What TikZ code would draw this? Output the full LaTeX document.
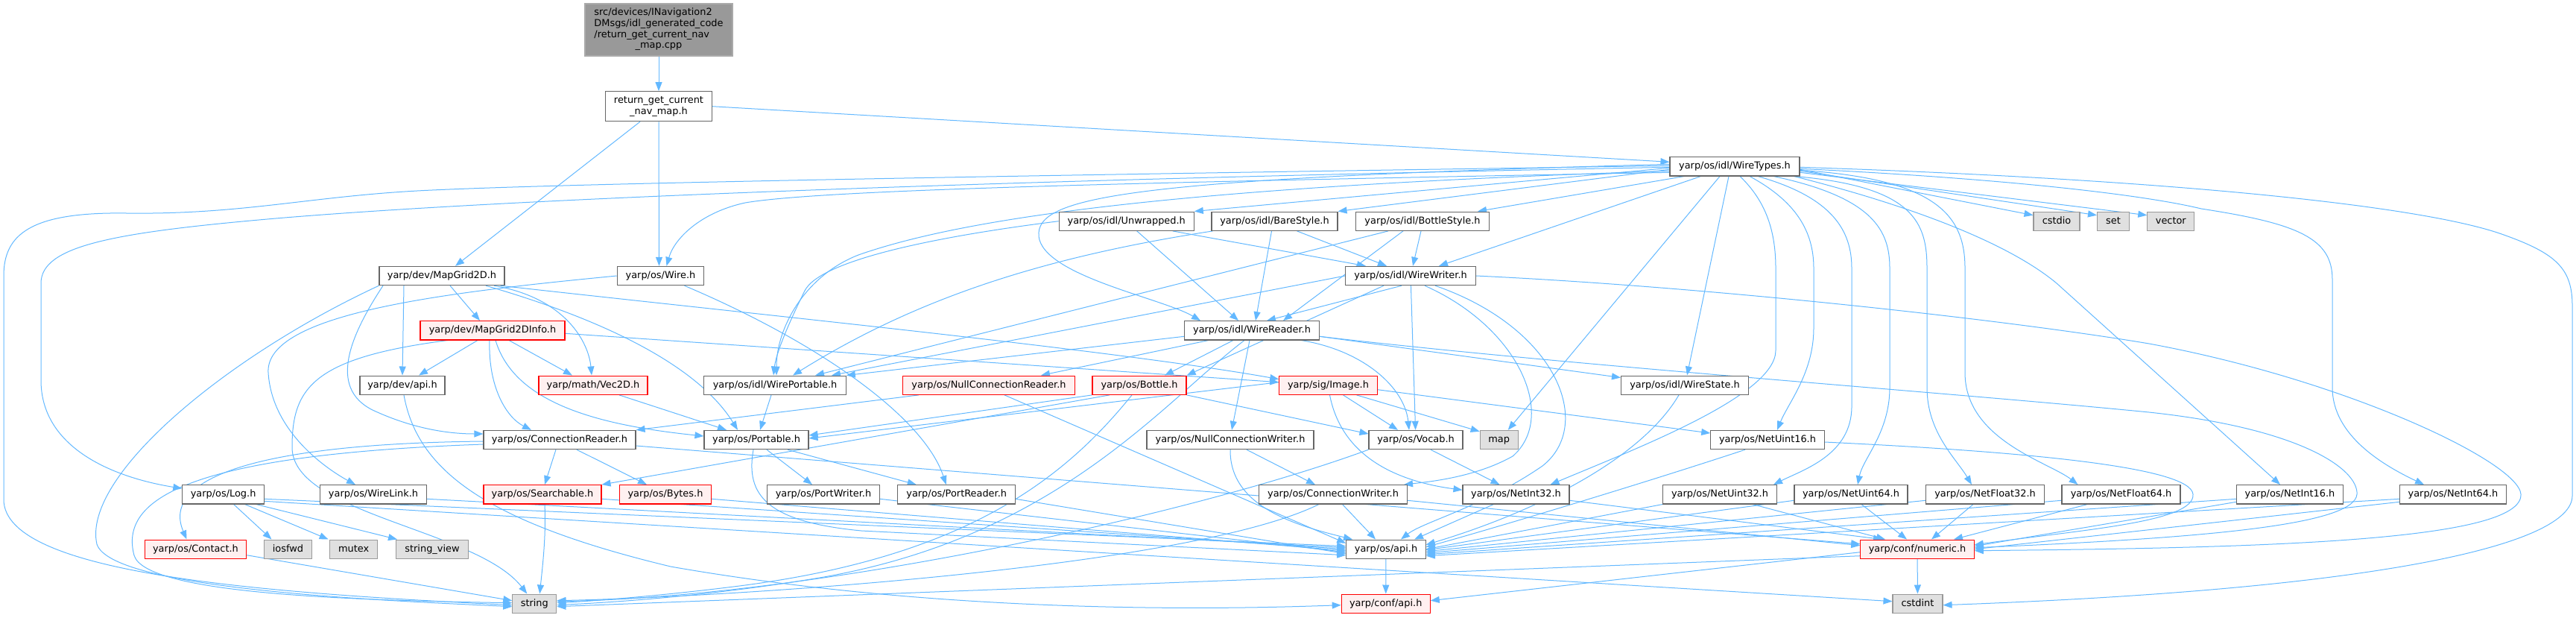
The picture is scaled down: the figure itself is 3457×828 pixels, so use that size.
\documentclass[tikz,border=0pt]{standalone}
\usepackage{fontspec}
\setmainfont{DejaVu Sans}
\usetikzlibrary{arrows.meta}
\pgfdeclarelayer{edgelayer}
\pgfsetlayers{edgelayer,main}
\definecolor{eb}{HTML}{63B8FF}
\definecolor{nb}{HTML}{666666}
\definecolor{rb}{HTML}{FF0000}
\definecolor{rf}{HTML}{FFF0F0}
\definecolor{gb}{HTML}{999999}
\definecolor{gf}{HTML}{E0E0E0}
\definecolor{rootf}{HTML}{999999}
\definecolor{rootb}{HTML}{AAAAAA}
\tikzset{
  base/.style={rectangle, line width=1.1pt, inner xsep=0pt, inner ysep=0pt, font=\fontsize{12.9}{14.7}\selectfont},
  nd/.style={base, draw=nb, fill=white, minimum height=25.3pt, text height=9.6pt, text depth=3pt},
  rd/.style={nd, draw=rb, fill=rf},
  gy/.style={nd, draw=gb, fill=gf},
  e/.style={draw=eb, line width=1pt, -{Triangle[length=12pt,width=9pt]}},
}
\begin{document}
\begin{tikzpicture}[x=1pt,y=-1pt]
\useasboundingbox (0,0) rectangle (3457,828);
% ---------------- nodes
\node[base, draw=rootb, fill=rootf, minimum width=198pt, minimum height=70pt] (root) at (884,40)
  {\begin{tabular}{@{}l@{}}src/devices/INavigation2\\DMsgs/idl\_generated\_code\\/return\_get\_current\_nav\\\multicolumn{1}{@{}c@{}}{\_map.cpp}\end{tabular}};
\node[base, draw=nb, fill=white, minimum width=142.5pt, minimum height=40pt, align=center] (rgc) at (884,142.7) {return\_get\_current\\\_nav\_map.h};
\node[nd, minimum width=174pt] (wt) at (2328,223.3) {yarp/os/idl/WireTypes.h};
\node[nd, minimum width=181pt] (unw) at (1511.7,296.7) {yarp/os/idl/Unwrapped.h};
\node[nd, minimum width=169pt] (bare) at (1710.5,296.7) {yarp/os/idl/BareStyle.h};
\node[nd, minimum width=179pt] (bots) at (1909,296.7) {yarp/os/idl/BottleStyle.h};
\node[gy, minimum width=62pt] (cstdio) at (2760,296.7) {cstdio};
\node[gy, minimum width=43pt] (set) at (2836,296.7) {set};
\node[gy, minimum width=63pt] (vector) at (2913.3,296.7) {vector};
\node[nd, minimum width=168pt] (mg) at (593,370) {yarp/dev/MapGrid2D.h};
\node[nd, minimum width=116.5pt] (wire) at (886.5,370) {yarp/os/Wire.h};
\node[nd, minimum width=175pt] (ww) at (1893,370) {yarp/os/idl/WireWriter.h};
\node[rd, minimum width=194pt] (mgi) at (661,443.3) {yarp/dev/MapGrid2DInfo.h};
\node[nd, minimum width=181pt] (wr) at (1680,443.3) {yarp/os/idl/WireReader.h};
\node[nd, minimum width=114pt] (devapi) at (540,516.7) {yarp/dev/api.h};
\node[rd, minimum width=146pt] (vec) at (796,516.7) {yarp/math/Vec2D.h};
\node[nd, minimum width=190.5pt] (wp) at (1040,516.7) {yarp/os/idl/WirePortable.h};
\node[rd, minimum width=231pt] (ncr) at (1327,516.7) {yarp/os/NullConnectionReader.h};
\node[rd, minimum width=126pt] (bot) at (1529,516.7) {yarp/os/Bottle.h};
\node[rd, minimum width=131.5pt] (img) at (1782.5,516.7) {yarp/sig/Image.h};
\node[nd, minimum width=171pt] (ws) at (2261,516.7) {yarp/os/idl/WireState.h};
\node[nd, minimum width=204pt] (cr) at (751,590) {yarp/os/ConnectionReader.h};
\node[nd, minimum width=140pt] (port) at (1015,590) {yarp/os/Portable.h};
\node[nd, minimum width=224pt] (ncw) at (1651,590) {yarp/os/NullConnectionWriter.h};
\node[nd, minimum width=126pt] (voc) at (1900,590) {yarp/os/Vocab.h};
\node[gy, minimum width=51pt] (map) at (2011.7,590) {map};
\node[nd, minimum width=152.5pt] (nu16) at (2372,590) {yarp/os/NetUint16.h};
\node[nd, minimum width=109.5pt] (log) at (299.6,663.3) {yarp/os/Log.h};
\node[nd, minimum width=143pt] (wl) at (501,663.3) {yarp/os/WireLink.h};
\node[rd, minimum width=158pt] (srch) at (728,663.3) {yarp/os/Searchable.h};
\node[rd, minimum width=123pt] (bytes) at (893,663.3) {yarp/os/Bytes.h};
\node[nd, minimum width=151pt] (pw) at (1105,663.3) {yarp/os/PortWriter.h};
\node[nd, minimum width=157.6pt] (pr) at (1283.7,663.3) {yarp/os/PortReader.h};
\node[nd, minimum width=199pt] (cw) at (1789,663.3) {yarp/os/ConnectionWriter.h};
\node[nd, minimum width=143pt] (ni32) at (2034.5,663.3) {yarp/os/NetInt32.h};
\node[nd, minimum width=152.5pt] (nu32) at (2308,663.3) {yarp/os/NetUint32.h};
\node[nd, minimum width=152pt] (nu64) at (2484,663.3) {yarp/os/NetUint64.h};
\node[nd, minimum width=159pt] (nf32) at (2664,663.3) {yarp/os/NetFloat32.h};
\node[nd, minimum width=159pt] (nf64) at (2846.5,663.3) {yarp/os/NetFloat64.h};
\node[nd, minimum width=143pt] (ni16) at (3073,663.3) {yarp/os/NetInt16.h};
\node[nd, minimum width=143pt] (ni64) at (3292,663.3) {yarp/os/NetInt64.h};
\node[rd, minimum width=136.5pt] (contact) at (262.5,736.7) {yarp/os/Contact.h};
\node[gy, minimum width=64pt] (iosfwd) at (386.5,736.7) {iosfwd};
\node[gy, minimum width=64pt] (mutex) at (474.6,736.7) {mutex};
\node[gy, minimum width=97.7pt] (sv) at (580,736.7) {string\_view};
\node[nd, minimum width=106.5pt] (osapi) at (1860,736.7) {yarp/os/api.h};
\node[rd, minimum width=152.4pt] (num) at (2573,736.7) {yarp/conf/numeric.h};
\node[gy, minimum width=59pt] (str) at (717.3,809.7) {string};
\node[rd, minimum width=119pt] (confapi) at (1859.7,809.7) {yarp/conf/api.h};
\node[gy, minimum width=67pt] (cstdint) at (2573.5,809.7) {cstdint};
% ---------------- edges
\begin{pgfonlayer}{edgelayer}
% root and return_get_current_nav_map.h
\draw[e] (root) -- (rgc);
\draw[e] ([xshift=-25pt]rgc.south) -- ([xshift=18pt]mg.north);
\draw[e] (rgc.south) -- ([xshift=-2pt]wire.north);
\draw[e] (rgc.east) -- ([yshift=6pt]wt.west);
% WireTypes
\draw[e] ([yshift=-4pt]wt.east) -- ([yshift=8pt]cstdio.west);
\draw[e] ([yshift=-6pt]wt.east) -- ([yshift=8pt]set.west);
\draw[e] ([yshift=-8pt]wt.east) -- ([yshift=8pt]vector.west);
\draw[e] ([yshift=-2pt]wt.west) -- (unw.north east);
\draw[e] ([yshift=-4pt]wt.west) -- (bare.north east);
\draw[e] ([xshift=20pt]wt.south west) -- ([xshift=-16pt]bots.north east);
\draw[e] ([xshift=42pt]wt.south west) -- ([xshift=38pt]ww.north);
\draw[e] ([yshift=3pt]wt.west) .. controls (1500,240) and (1390,265) .. (1394,317) .. controls (1400,370) and (1560,400) .. ([xshift=-69pt]wr.north);
\draw[e] ([yshift=-6pt]wt.west) .. controls (1600,250) and (1300,290) .. (1152,342) .. controls (1080,370) and (1042,440) .. ([xshift=2pt]wp.north);
\draw[e] ([yshift=-8pt]wt.west) .. controls (1500,245) and (1100,255) .. (1000,272) .. controls (940,285) and (905,320) .. ([xshift=8pt]wire.north);
\draw[e] ([yshift=-1pt]wt.west) .. controls (1400,240) and (700,265) .. (370,293) .. controls (150,312) and (55,330) .. (55,380) -- (55,510) .. controls (55,600) and (150,640) .. ([yshift=8pt]log.west);
\draw[e] ([yshift=1pt]wt.west) .. controls (1400,235) and (800,245) .. (580,255) .. controls (420,262) and (330,288) .. (170,286) .. controls (40,284) and (5,315) .. (5,370) -- (5,670) .. controls (5,770) and (350,795) .. ([yshift=-2pt]str.west);
\draw[e] ([xshift=-20pt]wt.south) -- ([xshift=12pt]map.north);
\draw[e] ([xshift=-8pt]wt.south) -- ([xshift=3pt]ws.north);
\draw[e] ([xshift=7pt]wt.south) .. controls (2370,270) and (2383,310) .. (2383,360) -- (2383,470) .. controls (2383,530) and (2200,600) .. ([xshift=46pt]ni32.north);
\draw[e] ([xshift=20pt]wt.south) .. controls (2410,270) and (2434,310) .. (2434,360) -- (2434,440) .. controls (2434,500) and (2400,540) .. ([xshift=13pt]nu16.north);
\draw[e] ([xshift=31pt]wt.south) .. controls (2460,265) and (2485,310) .. (2485,360) -- (2485,545) .. controls (2485,610) and (2420,630) .. ([xshift=72pt]nu32.north);
\draw[e] ([xshift=52pt]wt.south) .. controls (2515,265) and (2536,310) .. (2536,360) -- (2536,520) .. controls (2536,580) and (2500,615) .. ([xshift=9pt]nu64.north);
\draw[e] ([xshift=80pt]wt.south) .. controls (2570,250) and (2586,300) .. (2586,360) -- (2586,520) .. controls (2586,580) and (2625,615) .. ([xshift=-18pt]nf32.north);
\draw[e] ([yshift=-5pt]wt.east) .. controls (2600,240) and (2637,290) .. (2637,360) -- (2637,500) .. controls (2637,590) and (2750,620) .. ([xshift=-58pt]nf64.north);
\draw[e] ([xshift=-8pt]wt.south east) .. controls (2580,280) and (2700,330) .. (2760,380) -- ([xshift=-13pt]ni16.north);
\draw[e] ([yshift=-3pt]wt.east) .. controls (2700,240) and (2880,262) .. (2954,280) .. controls (3085,300) and (3130,320) .. (3130,375) -- (3130,520) .. controls (3130,585) and (3200,625) .. ([xshift=-39pt]ni64.north);
\draw[e] ([yshift=-1pt]wt.east) .. controls (2900,240) and (3250,275) .. (3360,315) .. controls (3430,340) and (3452,360) .. (3452,410) -- (3452,665) .. controls (3452,730) and (3200,790) .. ([yshift=-2pt]cstdint.east);
% Unwrapped, BareStyle, BottleStyle
\draw[e] ([xshift=62pt]unw.south) -- ([xshift=-60pt]ww.north);
\draw[e] ([xshift=14pt]unw.south) -- ([xshift=-18pt]wr.north);
\draw[e] (unw.west) .. controls (1250,318) and (1100,350) .. (1080,390) .. controls (1065,420) and (1042,470) .. ([xshift=-2pt]wp.north);
\draw[e] ([xshift=30pt]bare.south) -- ([xshift=-32pt]ww.north);
\draw[e] ([xshift=-4pt]bare.south) -- ([xshift=5pt]wr.north);
\draw[e] ([xshift=2pt]bare.south west) .. controls (1400,345) and (1230,400) .. ([xshift=24pt]wp.north);
\draw[e] ([xshift=-2pt]bots.south) -- ([xshift=3pt]ww.north);
\draw[e] ([xshift=-26pt]bots.south) -- ([xshift=42pt]wr.north);
\draw[e] ([xshift=-46pt]bots.south) -- ([xshift=54pt]wp.north);
% WireWriter
\draw[e] ([xshift=-12pt]ww.south) -- ([xshift=20pt]wr.north);
\draw[e] (ww.west) -- ([xshift=76pt]wp.north);
\draw[e] ([xshift=-36pt]ww.south) -- (bot.north east);
\draw[e] (ww) -- (voc);
\draw[e] ([xshift=19pt]ww.south) .. controls (2040,440) and (2090,560) .. (2030,612) .. controls (1980,640) and (1920,646) .. ([xshift=95pt]cw.north);
\draw[e] ([xshift=33pt]ww.south) .. controls (2090,440) and (2140,570) .. (2070,625) .. controls (1990,680) and (1910,700) .. ([xshift=20pt]osapi.north);
\draw[e] (ww.east) .. controls (2300,385) and (2700,430) .. (2884,461) .. controls (3150,510) and (3380,620) .. (3383,663) .. controls (3386,725) and (3050,735) .. ([yshift=-2pt]num.east);
% WireReader
\draw[e] ([xshift=-58pt]wr.south) -- ([xshift=70pt]ncr.north);
\draw[e] ([xshift=-25pt]wr.south) -- ([xshift=34pt]bot.north);
\draw[e] ([xshift=-3pt]wr.south) -- ([xshift=2pt]ncw.north);
\draw[e] ([xshift=-10pt]wr.south) .. controls (1560,540) and (1420,720) .. (1100,775) .. controls (950,800) and (820,808) .. ([yshift=-2pt]str.east);
\draw[e] ([yshift=-8pt]wr.west) -- (wp.north east);
\draw[e] ([yshift=-8pt]wr.east) -- ([yshift=-3pt]ws.north west);
\draw[e] ([xshift=66pt]wr.south) .. controls (1830,470) and (1885,520) .. ([xshift=-9pt]voc.north);
\draw[e] ([yshift=-8pt]wr.east) .. controls (2100,490) and (2600,525) .. (2884,553) .. controls (3090,575) and (3165,630) .. (3163,663) .. controls (3160,705) and (2950,722) .. ([yshift=2pt]num.east);
% NullConnectionReader, Bottle, Image
\draw[e] ([xshift=-94pt]ncr.south) -- (cr.north east);
\draw[e] ([xshift=21pt]ncr.south) -- ([yshift=8pt]osapi.west);
\draw[e] (bot.south west) -- ([yshift=6pt]port.east);
\draw[e] ([xshift=-40pt]bot.south) -- (srch.north east);
\draw[e] ([xshift=-10pt]bot.south) .. controls (1430,640) and (1300,745) .. (1000,785) .. controls (900,798) and (800,806) .. ([yshift=1pt]str.east);
\draw[e] (bot.south east) -- ([yshift=8pt]voc.west);
\draw[e] ([xshift=20pt]img.south) -- ([xshift=-24pt]voc.north);
\draw[e] ([xshift=38pt]img.south) -- ([yshift=-2pt]map.north west);
\draw[e] ([xshift=2pt]img.south) .. controls (1800,610) and (1870,645) .. ([yshift=6pt]ni32.west);
\draw[e] ([yshift=-6pt]img.east) -- ([yshift=9pt]nu16.west);
\draw[e] ([yshift=4pt]img.west) -- ([yshift=2pt]port.east);
% NullConnectionWriter, Vocab, ConnectionWriter
\draw[e] ([xshift=22pt]ncw.south) -- ([xshift=-24pt]cw.north);
\draw[e] (ncw.south) .. controls (1650,680) and (1740,705) .. ([xshift=-45pt]osapi.north);
\draw[e] ([xshift=20pt]voc.south) -- ([xshift=-22pt]ni32.north);
\draw[e] (voc.south west) .. controls (1600,690) and (1100,800) .. ([yshift=3pt]str.east);
\draw[e] (cw) -- ([xshift=-14pt]osapi.north);
\draw[e] ([yshift=-8pt]cw.east) -- ([yshift=5pt]num.west);
\draw[e] ([xshift=-19pt]cw.south) .. controls (1600,760) and (1000,800) .. ([yshift=4pt]str.east);
% Net types
\draw[e] ([xshift=-30pt]ni32.south) -- ([xshift=38pt]osapi.north);
\draw[e] ([yshift=-8pt]ni32.east) -- ([xshift=-47pt]num.north);
\draw[e] ([xshift=-8pt]ws.south) .. controls (2200,620) and (2050,690) .. ([yshift=6pt]osapi.east);
\draw[e] ([xshift=-30pt]nu16.south) .. controls (2200,650) and (2000,710) .. ([yshift=3pt]osapi.east);
\draw[e] ([yshift=-3pt]nu16.east) .. controls (2700,605) and (2940,625) .. (2943,663) .. controls (2946,700) and (2800,710) .. ([yshift=6pt]num.east);
\draw[e] (nu32.south west) -- (osapi.east);
\draw[e] ([xshift=44pt]nu32.south) -- ([xshift=-43pt]num.north);
\draw[e] ([yshift=-8pt]nu64.west) -- ([yshift=-1pt]osapi.east);
\draw[e] ([xshift=14pt]nu64.south) -- ([xshift=-14pt]num.north);
\draw[e] ([yshift=-8pt]nf32.west) -- ([yshift=-3pt]osapi.east);
\draw[e] ([xshift=-16pt]nf32.south) -- ([xshift=19pt]num.north);
\draw[e] ([yshift=-8pt]nf64.west) -- ([yshift=-5pt]osapi.east);
\draw[e] ([xshift=-45pt]nf64.south) -- ([xshift=49pt]num.north);
\draw[e] ([yshift=-6pt]ni16.west) -- ([yshift=-7pt]osapi.east);
\draw[e] ([yshift=-10pt]ni16.west) -- ([yshift=4pt]num.east);
\draw[e] ([yshift=-6pt]ni64.west) -- ([yshift=-9pt]osapi.east);
\draw[e] ([yshift=-10pt]ni64.west) -- ([yshift=0pt]num.east);
% bottom
\draw[e] (osapi) -- (confapi);
\draw[e] (num) -- (cstdint);
\draw[e] ([yshift=-4pt]num.west) -- ([yshift=4pt]confapi.east);
\draw[e] ([yshift=-9pt]num.west) -- ([yshift=-4pt]str.east);
% Log, Contact, WireLink, Searchable, Bytes, PortWriter, PortReader
\draw[e] ([xshift=14pt]log.south) -- ([xshift=-22pt]iosfwd.north);
\draw[e] ([xshift=29pt]log.south) -- ([xshift=-34pt]mutex.north);
\draw[e] ([xshift=44pt]log.south) -- ([xshift=-47pt]sv.north);
\draw[e] ([yshift=-6pt]log.east) -- ([yshift=4pt]osapi.west);
\draw[e] ([yshift=-9pt]log.east) -- ([yshift=3pt]cstdint.west);
\draw[e] ([yshift=-8pt]contact.east) -- ([yshift=4pt]str.west);
\draw[e] ([yshift=-6pt]wl.east) -- ([yshift=2pt]osapi.west);
\draw[e] ([xshift=3pt]srch.south) .. controls (733,720) and (728,760) .. ([xshift=7pt]str.north);
\draw[e] ([yshift=-6pt]srch.east) -- (osapi.west);
\draw[e] ([yshift=-6pt]bytes.east) -- ([yshift=-2pt]osapi.west);
\draw[e] ([yshift=-6pt]pw.east) -- ([yshift=-4pt]osapi.west);
\draw[e] ([yshift=-6pt]pr.east) -- ([yshift=-6pt]osapi.west);
% Portable, ConnectionReader
\draw[e] ([xshift=14pt]port.south) -- ([xshift=-15pt]pw.north);
\draw[e] ([xshift=42pt]port.south) -- ([xshift=-54pt]pr.north);
\draw[e] ([xshift=-4pt]port.south) .. controls (1000,665) and (1030,700) .. (1156,712) -- ([yshift=-8pt]osapi.west);
\draw[e] ([xshift=-5pt]cr.south) -- ([xshift=3pt]srch.north);
\draw[e] ([xshift=23pt]cr.south) -- ([xshift=-25pt]bytes.north);
\draw[e] ([yshift=-8pt]cr.east) -- ([yshift=7pt]num.west);
\draw[e] ([yshift=-2pt]cr.west) .. controls (350,595) and (215,640) .. ([xshift=-12pt]contact.north);
\draw[e] ([yshift=-6pt]cr.west) .. controls (250,610) and (160,670) .. (180,745) .. controls (195,795) and (450,805) .. ([yshift=1pt]str.west);
% MapGrid2D
\draw[e] ([xshift=-51pt]mg.south) -- (devapi.north);
\draw[e] ([xshift=11pt]mg.south) -- ([xshift=-17pt]mgi.north);
\draw[e] ([xshift=70pt]mg.south) .. controls (760,400) and (790,460) .. ([xshift=-2pt]vec.north);
\draw[e] ([xshift=59pt]mg.south) .. controls (780,420) and (930,480) .. ([xshift=-25pt]port.north);
\draw[e] ([xshift=-6pt]mg.south east) .. controls (1000,420) and (1500,470) .. ([yshift=8pt]img.west);
\draw[e] ([xshift=-79pt]mg.south) .. controls (470,450) and (440,520) .. (500,550) .. controls (560,578) and (610,582) .. ([yshift=8pt]cr.west);
\draw[e] (mg.south west) .. controls (300,480) and (110,640) .. (130,730) .. controls (150,790) and (500,805) .. ([yshift=-4pt]str.west);
% MapGrid2DInfo
\draw[e] ([xshift=-20pt]mgi.south) -- ([xshift=22pt]devapi.north);
\draw[e] ([xshift=22pt]mgi.south) -- ([xshift=-28pt]vec.north);
\draw[e] ([xshift=-4pt]mgi.south) .. controls (655,520) and (680,560) .. ([xshift=-38pt]cr.north);
\draw[e] ([xshift=4pt]mgi.south) .. controls (690,540) and (800,570) .. ([yshift=5pt]port.west);
\draw[e] ([yshift=-4pt]mgi.east) -- ([yshift=4pt]img.west);
\draw[e] ([xshift=-60pt]mgi.south) .. controls (420,480) and (392,520) .. (392,600) .. controls (392,690) and (640,710) .. ([xshift=-10pt]str.north);
% dev/api, Vec2D, WirePortable, Wire
\draw[e] ([xshift=2pt]devapi.south) .. controls (560,630) and (650,700) .. (900,760) .. controls (1300,830) and (1700,815) .. ([yshift=-2pt]confapi.west);
\draw[e] ([xshift=35pt]vec.south) -- ([xshift=-40pt]port.north);
\draw[e] ([xshift=-5pt]wp.south) -- ([xshift=5pt]port.north);
\draw[e] (wire.west) .. controls (600,392) and (355,420) .. (360,500) .. controls (365,580) and (440,630) .. ([xshift=-24pt]wl.north);
\draw[e] ([xshift=32pt]wire.south) .. controls (1100,460) and (1240,560) .. ([xshift=-14pt]pr.north);
\end{pgfonlayer}
\end{tikzpicture}
\end{document}
